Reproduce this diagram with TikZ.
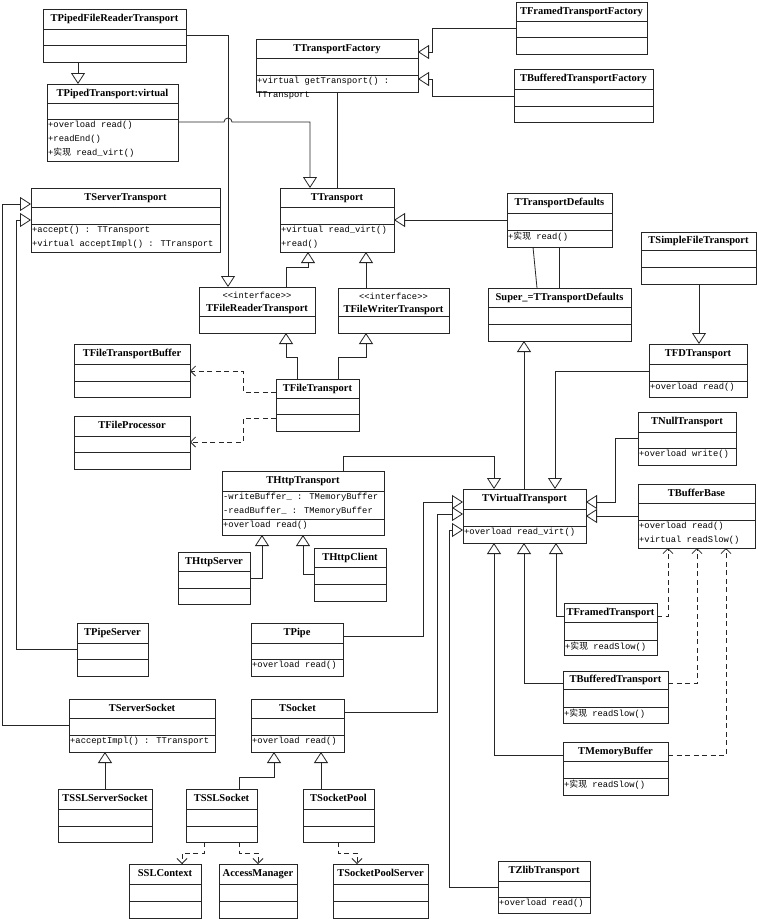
\documentclass[tikz,border=0pt]{standalone}
\usepackage{fontspec}
\newfontfamily\titlefont{Liberation Serif}
\newfontfamily\codefont{Liberation Mono}
\newfontfamily\cjkfont{Noto Sans CJK SC}
\usetikzlibrary{arrows.meta}

\newcommand\impl{{\cjkfont 实现}}

\tikzset{
  classbox/.style={draw=black!85, line width=0.9pt, inner sep=0pt, outer sep=0pt},
  classline/.style={draw=black!85, line width=0.9pt},
  titletext/.style={font={\titlefont\bfseries\fontsize{10.5}{12}\selectfont}, inner sep=0pt, text height=7.5pt, text depth=2pt},
  stereotext/.style={font={\codefont\fontsize{8.8}{10}\selectfont}, inner sep=0pt, text height=6.5pt, text depth=1.5pt},
  membertext/.style={font={\codefont\fontsize{8.8}{13.8}\selectfont}, align=left, anchor=north west, inner xsep=1pt, inner ysep=2pt},
  inh/.style={draw=black!85, line width=0.8pt, -{Triangle[open, length=11pt, width=14pt]}},
  dep/.style={draw=black!85, line width=0.8pt, dash pattern=on 5pt off 3.5pt, -{Straight Barb[length=5pt, width=10pt]}},
  assoc/.style={draw=black!85, line width=0.8pt}
}

% #1 name, #2..#5 corners, #6 #7 compartment lines, #8 title, #9 members
\newcommand\umlclass[9]{%
  \node[classbox, minimum width={#4-#2}, minimum height={#5-#3}] (#1) at ({(#2+#4)/2},{(#3+#5)/2}) {};
  \draw[classline] (#2,#6) -- (#4,#6) (#2,#7) -- (#4,#7);
  \node[titletext] at ({(#2+#4)/2},{(#3+#6)/2}) {#8};
  \node[membertext] at (#2,#7) {#9};
}

\begin{document}
\begin{tikzpicture}[x=1pt, y=-1pt]
\fill[white] (0,0) rectangle (758,919);
\useasboundingbox (0,0) rectangle (758,919);

% classes
\umlclass{tpfrt}{43}{9}{186}{62}{29}{45}{TPipedFileReaderTransport}{}
\umlclass{tpt}{47}{84}{178}{161}{103}{119}{TPipedTransport:virtual}{+overload read()\\+readEnd()\\+\impl{} read\_virt()}
\umlclass{ttf}{256}{39}{418}{92}{58}{75}{TTransportFactory}{+virtual getTransport() :\\TTransport}
\umlclass{tftf}{516}{2}{647}{54}{21}{37}{TFramedTransportFactory}{}
\umlclass{tbtf}{514}{69}{653}{122}{89}{106}{TBufferedTransportFactory}{}
\umlclass{tst}{31}{188}{220}{252}{207}{224}{TServerTransport}{+accept() : TTransport\\+virtual acceptImpl() : TTransport}
\umlclass{tt}{280}{188}{394}{252}{207}{224}{TTransport}{+virtual read\_virt()\\+read()}
\umlclass{ttd}{507}{193}{612}{247}{213}{230}{TTransportDefaults}{+\impl{} read()}
\umlclass{tsft}{641}{232}{756}{284}{250}{267}{TSimpleFileTransport}{}
\umlclass{tfrt}{199}{287}{315}{333}{316}{333}{}{}
\node[stereotext] at (257,296) {<\kern0pt<interface>\kern0pt>};
\node[titletext] at (257,309) {TFileReaderTransport};
\umlclass{tfwt}{338}{288}{449}{333}{316}{333}{}{}
\node[stereotext] at (393.5,297) {<\kern0pt<interface>\kern0pt>};
\node[titletext] at (393.5,310) {TFileWriterTransport};
\umlclass{super}{488}{288}{631}{341}{307}{324}{Super\_=TTransportDefaults}{}
\umlclass{tftb}{74}{344}{190}{397}{364}{381}{TFileTransportBuffer}{}
\umlclass{tfdt}{649}{344}{747}{397}{364}{381}{TFDTransport}{+overload read()}
\umlclass{tft}{276}{379}{359}{431}{398}{414}{TFileTransport}{}
\umlclass{tfp}{74}{416}{190}{469}{436}{452}{TFileProcessor}{}
\umlclass{tnt}{638}{412}{736}{465}{432}{448}{TNullTransport}{+overload write()}
\umlclass{tht}{222}{471}{384}{535}{491}{519}{THttpTransport}{+overload read()}
\node[membertext] at (222,491) {-writeBuffer\_ : TMemoryBuffer\\-readBuffer\_ : TMemoryBuffer};
\umlclass{tbb}{638}{484}{755}{548}{503}{520}{TBufferBase}{+overload read()\\+virtual readSlow()}
\umlclass{tvt}{463}{489}{586}{543}{509}{526}{TVirtualTransport}{+overload read\_virt()}
\umlclass{ths}{178}{552}{250}{604}{571}{588}{THttpServer}{}
\umlclass{thc}{314}{548}{386}{601}{567}{584}{THttpClient}{}
\umlclass{tfrmt}{564}{603}{657}{655}{622}{640}{TFramedTransport}{+\impl{} readSlow()}
\umlclass{tps}{77}{623}{148}{676}{643}{659}{TPipeServer}{}
\umlclass{tpipe}{251}{623}{343}{676}{643}{659}{TPipe}{+overload read()}
\umlclass{tbt}{563}{671}{668}{723}{689}{707}{TBufferedTransport}{+\impl{} readSlow()}
\umlclass{tss}{69}{699}{215}{752}{718}{735}{TServerSocket}{+acceptImpl() : TTransport}
\umlclass{tsock}{251}{699}{344}{752}{718}{735}{TSocket}{+overload read()}
\umlclass{tmb}{563}{742}{668}{795}{761}{778}{TMemoryBuffer}{+\impl{} readSlow()}
\umlclass{tsslss}{58}{789}{152}{842}{809}{826}{TSSLServerSocket}{}
\umlclass{tsslsock}{186}{789}{257}{842}{809}{826}{TSSLSocket}{}
\umlclass{tsp}{303}{789}{374}{842}{809}{826}{TSocketPool}{}
\umlclass{tzt}{498}{861}{590}{913}{881}{897}{TZlibTransport}{+overload read()}
\umlclass{sslc}{129}{864}{201}{918}{884}{901}{SSLContext}{}
\umlclass{am}{219}{864}{297}{918}{884}{901}{AccessManager}{}
\umlclass{tsps}{333}{864}{428}{918}{884}{901}{TSocketPoolServer}{}

% top part
\draw[inh] (tpfrt.south -| 78,0) -- (tpt.north -| 78,0);
\draw[inh] (tpfrt.east |- 0,35) -| (tfrt.north -| 228,0);
\draw[inh] (tpt.east |- 0,122) -- (224,122) arc[start angle=180, end angle=360, radius=4] -| (tt.north -| 310,0);
\draw[assoc] (ttf.south -| 337,0) -- (tt.north -| 337,0);
\draw[inh] (tftf.west |- 0,28) -| (432,52) -- (ttf.east |- 0,52);
\draw[inh] (tbtf.west |- 0,96) -| (432,79) -- (ttf.east |- 0,79);
\draw[inh] (ttd.west |- 0,220) -- (tt.east |- 0,220);
\draw[inh] (tfrt.north -| 286,0) |- (308,267) -- (tt.south -| 308,0);
\draw[inh] (tfwt.north -| 366,0) -- (tt.south -| 366,0);
\draw[inh] (tft.north -| 297,0) |- (286,357) -- (tfrt.south -| 286,0);
\draw[inh] (tft.north -| 338,0) |- (366,357) -- (tfwt.south -| 366,0);
\draw[dep] (tft.west |- 0,392) -| (243,371) -- (tftb.east |- 0,371);
\draw[dep] (tft.west |- 0,418) -| (243,442) -- (tfp.east |- 0,442);
\draw[assoc] (ttd.south -| 533,0) -- (super.north -| 537,0);
\draw[assoc] (ttd.south -| 559,0) -- (super.north -| 559,0);
\draw[inh] (tsft.south -| 699,0) -- (tfdt.north -| 699,0);

% TVirtualTransport family
\draw[inh] (tvt.north -| 524,0) -- (super.south -| 524,0);
\draw[inh] (tfdt.west |- 0,371) -| (tvt.north -| 555,0);
\draw[inh] (tnt.west |- 0,438) -| (615,502) -- (tvt.east |- 0,502);
\draw[inh] (tbb.west |- 0,516) -- (tvt.east |- 0,516);
\draw[inh] (tht.north -| 343,0) |- (494,456) -- (tvt.north -| 494,0);
\draw[inh] (ths.east |- 0,578) -| (tht.south -| 262,0);
\draw[inh] (thc.west |- 0,574) -| (tht.south -| 303,0);
\draw[inh] (tfrmt.west |- 0,616) -| (tvt.south -| 556,0);
\draw[inh] (tbt.west |- 0,683) -| (tvt.south -| 524,0);
\draw[inh] (tmb.west |- 0,755) -| (tvt.south -| 494,0);
\draw[dep] (tfrmt.east |- 0,616) -| (tbb.south -| 668,0);
\draw[dep] (tbt.east |- 0,683) -| (tbb.south -| 697,0);
\draw[dep] (tmb.east |- 0,755) -| (tbb.south -| 726,0);
\draw[inh] (tpipe.east |- 0,636) -| (423,502) -- (tvt.west |- 0,502);
\draw[inh] (tsock.east |- 0,712) -| (437,514) -- (tvt.west |- 0,514);
\draw[inh] (tzt.west |- 0,887) -| (449,530) -- (tvt.west |- 0,530);

% servers and sockets
\draw[inh] (tps.west |- 0,649) -| (16,220) -- (tst.west |- 0,220);
\draw[inh] (tss.west |- 0,725) -| (2,204) -- (tst.west |- 0,204);
\draw[inh] (tsslss.north -| 105,0) -- (tss.south -| 105,0);
\draw[inh] (tsslsock.north -| 239,0) |- (274,777) -- (tsock.south -| 274,0);
\draw[inh] (tsp.north -| 321,0) -- (tsock.south -| 321,0);
\draw[dep] (tsslsock.south -| 204,0) |- (182,853) -- (sslc.north -| 182,0);
\draw[dep] (tsslsock.south -| 239,0) |- (258,853) -- (am.north -| 258,0);
\draw[dep] (tsp.south -| 338,0) |- (357,853) -- (tsps.north -| 357,0);
\end{tikzpicture}
\end{document}
